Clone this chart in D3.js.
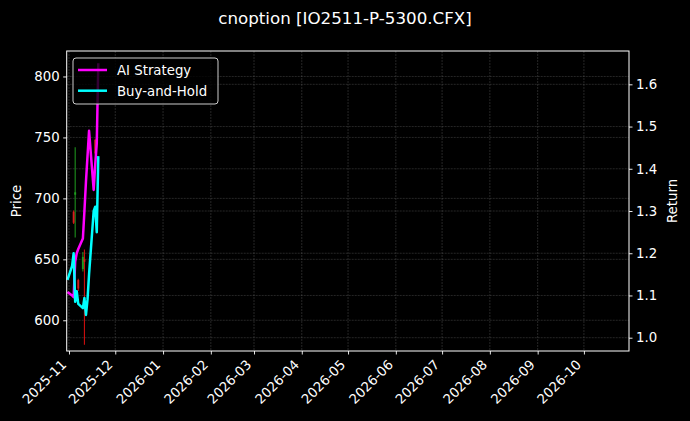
<!DOCTYPE html>
<html>
<head>
<meta charset="utf-8">
<script src="https://d3js.org/d3.v7.min.js"></script>
<style>
  body { margin: 0; background: #000; }
  svg { display: block; }
  text { font-family: "DejaVu Sans", sans-serif; fill: #fff; }
</style>
</head>
<body>
<div id="chart"></div>
<script>
// --- data ---
const lineDates = ["2025-10-31", "2025-11-03", "2025-11-04", "2025-11-05", "2025-11-06", "2025-11-07",
                   "2025-11-10", "2025-11-11", "2025-11-12", "2025-11-13", "2025-11-14",
                   "2025-11-17", "2025-11-18", "2025-11-19", "2025-11-20"];
const aiStrategy = [1.108, 1.100, 1.096, 1.180, 1.200, 1.210, 1.235, 1.300, 1.370, 1.430, 1.490,
                    1.350, 1.410, 1.460, 1.650];
const buyAndHold = [1.137, 1.170, 1.200, 1.085, 1.110, 1.080, 1.070, 1.094, 1.054, 1.090, 1.150,
                    1.300, 1.310, 1.250, 1.430];

const candleDates = ["2025-11-04", "2025-11-05", "2025-11-07", "2025-11-10", "2025-11-11", "2025-11-18"];
const candleOpen  = [689, 703, 633, 642, 650, 748];
const candleClose = [680, 705, 626, 652, 648, 737];
const candleHigh  = [690, 742, 634, 656, 658, 749];
const candleLow   = [679, 668, 624, 640, 580, 736];

const monthTicks = ["2025-11-01", "2025-12-01", "2026-01-01", "2026-02-01", "2026-03-01", "2026-04-01",
                    "2026-05-01", "2026-06-01", "2026-07-01", "2026-08-01", "2026-09-01", "2026-10-01"];
const priceTicks = [600, 650, 700, 750, 800];
const returnTicks = [1.0, 1.1, 1.2, 1.3, 1.4, 1.5, 1.6];

const W = 690, H = 421;
const mLeft = 66.7, mRight = 629, mTop = 51, mBottom = 351;

const parse = d3.utcParse("%Y-%m-%d");

const svg = d3.select("#chart").append("svg")
    .attr("width", W)
    .attr("height", H)
    .style("background", "#000");

const x = d3.scaleUtc()
    .domain([new Date(Date.UTC(2025, 9, 30, 12)), new Date(Date.UTC(2026, 9, 30, 6))])
    .range([mLeft, mRight]);
const yPrice = d3.scaleLinear().domain([574.8, 820.9]).range([mBottom, mTop]);
const yRet = d3.scaleLinear().domain([0.9685, 1.6789]).range([mBottom, mTop]);

// grid
const grid = svg.append("g")
    .attr("stroke", "#808080")
    .attr("stroke-opacity", 0.5)
    .attr("stroke-width", 0.6)
    .attr("stroke-dasharray", "2,1");
grid.selectAll(".gx").data(monthTicks).enter().append("line")
    .attr("x1", d => x(parse(d))).attr("x2", d => x(parse(d)))
    .attr("y1", mTop).attr("y2", mBottom);
grid.selectAll(".gp").data(priceTicks).enter().append("line")
    .attr("x1", mLeft).attr("x2", mRight)
    .attr("y1", d => yPrice(d)).attr("y2", d => yPrice(d));
grid.selectAll(".gr").data(returnTicks).enter().append("line")
    .attr("x1", mLeft).attr("x2", mRight)
    .attr("y1", d => yRet(d)).attr("y2", d => yRet(d));

// candles
const candles = candleDates.map((d, i) => ({
    date: parse(d), o: candleOpen[i], c: candleClose[i], h: candleHigh[i], l: candleLow[i]
}));
const bodyW = 2;
const cg = svg.append("g");
cg.selectAll("line").data(candles).enter().append("line")
    .attr("x1", d => x(d.date)).attr("x2", d => x(d.date))
    .attr("y1", d => yPrice(d.h)).attr("y2", d => yPrice(d.l))
    .attr("stroke", d => d.c >= d.o ? "#22aa22" : "#ee1111")
    .attr("stroke-opacity", 0.85)
    .attr("stroke-width", 1.1);
cg.selectAll("rect").data(candles).enter().append("rect")
    .attr("x", d => x(d.date) - bodyW / 2)
    .attr("width", bodyW)
    .attr("y", d => yPrice(Math.max(d.o, d.c)))
    .attr("height", d => Math.max(1, Math.abs(yPrice(d.o) - yPrice(d.c))))
    .attr("fill", d => d.c >= d.o ? "#22aa22" : "#dd2222")
    .attr("fill-opacity", 0.8);

// return lines
const line = d3.line()
    .x((d, i) => x(parse(lineDates[i])))
    .y(d => yRet(d));
svg.append("path").datum(aiStrategy)
    .attr("d", line).attr("fill", "none")
    .attr("stroke", "#ff00ff").attr("stroke-width", 2.5)
    .attr("stroke-linejoin", "round");
svg.append("path").datum(buyAndHold)
    .attr("d", line).attr("fill", "none")
    .attr("stroke", "#00ffff").attr("stroke-width", 2.5)
    .attr("stroke-linejoin", "round");

// axes
const xAxis = svg.append("g")
    .attr("transform", `translate(0,${mBottom})`)
    .call(d3.axisBottom(x)
        .tickValues(monthTicks.map(parse))
        .tickFormat(d3.utcFormat("%Y-%m"))
        .tickSize(3.5).tickSizeOuter(0));
xAxis.selectAll("text")
    .attr("font-size", 13.3)
    .attr("text-anchor", "end")
    .attr("y", 0).attr("dy", 0)
    .attr("transform", "translate(-2.3,14.5) rotate(-45)");

const yAxisL = svg.append("g")
    .attr("transform", `translate(${mLeft},0)`)
    .call(d3.axisLeft(yPrice).tickValues(priceTicks).tickSize(3.5).tickPadding(3.5).tickSizeOuter(0));
yAxisL.selectAll("text").attr("font-size", 13.3);

const yAxisR = svg.append("g")
    .attr("transform", `translate(${mRight},0)`)
    .call(d3.axisRight(yRet).tickValues(returnTicks).tickFormat(d3.format(".1f"))
        .tickSize(3.5).tickPadding(3.5).tickSizeOuter(0));
yAxisR.selectAll("text").attr("font-size", 13.3);

svg.selectAll(".domain").remove();
svg.selectAll(".tick line").attr("stroke", "#fff").attr("stroke-width", 0.9);
svg.selectAll(".tick text").attr("fill", "#fff").style("font-family", "DejaVu Sans");

// frame
svg.append("rect")
    .attr("x", mLeft).attr("y", mTop)
    .attr("width", mRight - mLeft).attr("height", mBottom - mTop)
    .attr("fill", "none").attr("stroke", "#fff").attr("stroke-width", 1);

// labels
svg.append("text")
    .attr("x", 345).attr("y", 24)
    .attr("text-anchor", "middle")
    .attr("font-size", 16.7)
    .text("cnoption [IO2511-P-5300.CFX]");
svg.append("text")
    .attr("transform", `translate(21,201) rotate(-90)`)
    .attr("text-anchor", "middle")
    .attr("font-size", 13.3)
    .text("Price");
svg.append("text")
    .attr("transform", `translate(677,201) rotate(-90)`)
    .attr("text-anchor", "middle")
    .attr("font-size", 13.3)
    .text("Return");

// legend
const legendNames = ["AI Strategy", "Buy-and-Hold"];
const legendColors = ["#ff00ff", "#00ffff"];
const lg = svg.append("g");
lg.append("rect")
    .attr("x", 73).attr("y", 58).attr("width", 145).attr("height", 46).attr("rx", 3)
    .attr("fill", "#000").attr("fill-opacity", 0.8)
    .attr("stroke", "#cccccc").attr("stroke-width", 1);
legendNames.forEach((name, i) => {
    const yy = 70 + i * 20.7;
    lg.append("line")
        .attr("x1", 78).attr("x2", 107).attr("y1", yy).attr("y2", yy)
        .attr("stroke", legendColors[i]).attr("stroke-width", 2.5);
    lg.append("text")
        .attr("x", 117).attr("y", yy + 4.8)
        .attr("font-size", 13.3)
        .text(name);
});
</script>
</body>
</html>
